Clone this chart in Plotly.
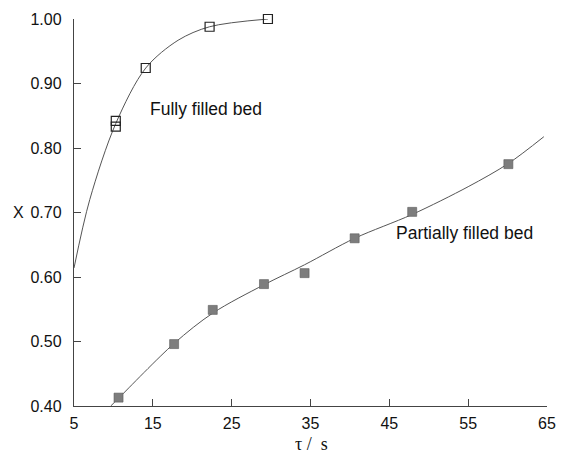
import plotly.graph_objects as go

# Measured conversion X versus residence time tau
tau_full = [10.3, 10.3, 14.1, 22.2, 29.6]
x_full = [0.842, 0.833, 0.924, 0.988, 1.000]

tau_part = [10.65, 17.7, 22.6, 29.1, 34.25, 40.6, 47.9, 60.1]
x_part = [0.413, 0.496, 0.549, 0.589, 0.606, 0.660, 0.701, 0.775]

# Smoothed fit curves (knots of the drawn trend lines)
fit_full_tau = [5.0, 7.0, 10.3, 14.1, 18.2, 22.2, 29.6]
fit_full_x = [0.614, 0.720, 0.838, 0.924, 0.967, 0.988, 1.000]

fit_part_tau = [9.66, 10.65, 17.7, 22.6, 29.1, 34.25, 40.6, 47.9, 55.0, 60.1, 64.6]
fit_part_x = [0.400, 0.412, 0.497, 0.544, 0.588, 0.619, 0.660, 0.697, 0.740, 0.776, 0.8175]

x_ticks = [5, 15, 25, 35, 45, 55, 65]
y_ticks = [0.40, 0.50, 0.60, 0.70, 0.80, 0.90, 1.00]

fig = go.Figure()

fig.add_trace(go.Scatter(
    x=fit_full_tau, y=fit_full_x, mode="lines",
    line=dict(color="#555555", width=1, shape="spline", smoothing=0.9),
    hoverinfo="skip", showlegend=False, cliponaxis=False))
fig.add_trace(go.Scatter(
    x=fit_part_tau, y=fit_part_x, mode="lines",
    line=dict(color="#555555", width=1, shape="spline", smoothing=0.9),
    hoverinfo="skip", showlegend=False, cliponaxis=False))

fig.add_trace(go.Scatter(
    x=tau_full, y=x_full, mode="markers", name="Fully filled bed",
    marker=dict(symbol="square-open", size=9, color="#222222",
                line=dict(width=1.2, color="#222222")),
    showlegend=False, cliponaxis=False))
fig.add_trace(go.Scatter(
    x=tau_part, y=x_part, mode="markers", name="Partially filled bed",
    marker=dict(symbol="square", size=9, color="#7d7d7d",
                line=dict(width=0.6, color="#5a5a5a")),
    showlegend=False, cliponaxis=False))

tick_font = dict(family="Liberation Sans, Arial, sans-serif", size=16, color="#111111")
label_font = dict(family="Liberation Sans, Arial, sans-serif", size=17.5, color="#111111")

fig.add_annotation(x=21.8, y=0.860, text="Fully filled bed", showarrow=False,
                   xanchor="center", yanchor="middle", font=label_font)
fig.add_annotation(x=54.5, y=0.668, text="Partially filled bed", showarrow=False,
                   xanchor="center", yanchor="middle", font=label_font)

# Axis titles
fig.add_annotation(xref="paper", yref="paper", x=-0.117, y=0.499, text="X",
                   showarrow=False, xanchor="center", yanchor="middle",
                   font=dict(family="Liberation Sans, Arial, sans-serif",
                             size=16, color="#111111"))
fig.add_annotation(xref="paper", yref="paper", x=0.502, y=-0.098, text="τ /  s",
                   showarrow=False, xanchor="center", yanchor="middle",
                   font=dict(family="Liberation Serif, Times New Roman, serif",
                             size=18, color="#111111"))

fig.update_xaxes(
    range=[5, 65], tickvals=x_ticks, ticktext=[str(v) for v in x_ticks],
    showgrid=False, zeroline=False, showline=True, linecolor="#444444", linewidth=1.2,
    ticks="inside", ticklen=7, tickcolor="#444444", tickwidth=1,
    tickfont=tick_font, ticklabelstandoff=3)
fig.update_yaxes(
    range=[0.40, 1.00], tickvals=y_ticks, ticktext=[f"{v:.2f}" for v in y_ticks],
    showgrid=False, zeroline=False, showline=True, linecolor="#444444", linewidth=1.4,
    ticks="inside", ticklen=7, tickcolor="#444444", tickwidth=1,
    tickfont=tick_font, ticklabelstandoff=8)

fig.update_layout(
    width=567, height=462,
    margin=dict(l=73.5, r=10.5, t=19, b=56, pad=0),
    paper_bgcolor="white", plot_bgcolor="white",
)

fig.write_html("out.html")
